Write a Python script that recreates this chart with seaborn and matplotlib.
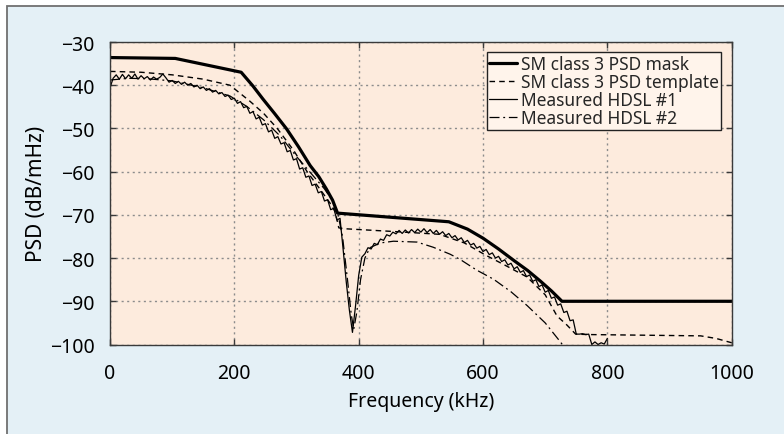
import matplotlib
matplotlib.use("Agg")
import matplotlib.pyplot as plt
import numpy as np
import pandas as pd
import seaborn as sns
from matplotlib.patches import Rectangle

# --- data ---
mask_khz = [0, 105, 211, 230, 246, 265, 284, 303, 322, 336, 348, 358, 366, 545, 575, 600, 625,
            650, 672, 692, 710, 727, 1000]
mask_db = [-33.6, -33.8, -37.0, -40.2, -43.2, -46.6, -50.1, -54.2, -58.6, -61.2, -64.0, -66.6,
           -69.6, -71.6, -73.3, -75.4, -77.9, -80.6, -82.9, -85.3, -87.6, -90.0, -90.0]

templ_khz = [0, 50, 100, 150, 193, 225, 247, 269, 295, 317, 340, 355, 362, 368, 376, 450, 530,
             570, 604, 640, 671, 700, 719, 735, 749, 770, 950, 975, 1000]
templ_db = [-36.8, -37.0, -37.6, -38.6, -40.0, -43.7, -46.5, -50.0, -55.0, -60.0, -64.5, -67.5,
            -69.2, -73.0, -73.2, -73.8, -74.5, -76.5, -79.3, -82.0, -84.4, -88.5, -93.4, -95.5,
            -97.6, -97.7, -98.0, -98.6, -99.6]

hdsl1_khz = np.arange(0, 801, 5)
hdsl1_db = [-40.6, -38.4, -37.6, -38.6, -37.5, -38.5, -37.6, -38.4, -37.4, -38.6,
            -37.8, -38.5, -38.0, -38.8, -38.1, -38.6, -38.2, -37.4, -38.3, -39.3,
            -38.9, -39.6, -39.1, -39.8, -39.3, -40.0, -39.6, -40.4, -40.0, -40.8,
            -40.4, -41.2, -40.8, -41.6, -41.2, -42.0, -41.7, -42.6, -42.3, -43.3,
            -43.0, -44.2, -43.8, -45.2, -44.9, -46.5, -46.1, -47.8, -47.4, -49.2,
            -48.9, -50.8, -50.4, -52.3, -51.9, -53.6, -53.3, -55.4, -55.1, -57.3,
            -57.0, -59.4, -59.1, -61.3, -61.0, -63.2, -62.9, -64.9, -64.6, -66.8,
            -66.5, -68.8, -68.5, -71.2, -70.8, -78.0, -85.5, -92.0, -97.2, -91.0,
            -84.0, -79.8, -79.0, -77.6, -77.9, -76.6, -76.9, -75.6, -75.9, -74.6,
            -74.9, -74.0, -74.4, -73.6, -74.3, -73.5, -74.2, -73.4, -74.1, -73.3,
            -74.0, -73.2, -74.1, -73.4, -74.3, -73.6, -74.5, -73.9, -74.8, -74.3,
            -75.3, -74.8, -75.8, -75.3, -76.4, -75.9, -77.0, -76.6, -77.7, -77.3,
            -78.5, -78.0, -79.2, -78.8, -80.0, -79.6, -80.8, -80.4, -81.6, -81.2,
            -82.5, -82.0, -83.3, -82.9, -84.3, -83.9, -85.4, -85.0, -86.6, -86.2,
            -87.9, -87.5, -89.3, -89.0, -90.9, -90.6, -92.6, -92.3, -94.5, -94.3,
            -97.6, -97.6, -97.5, -97.7, -97.6, -100.0, -99.4, -100.0, -99.6, -99.9,
            -98.6]

hdsl2_khz = [0, 30, 60, 100, 150, 193, 220, 247, 274, 300, 327, 345, 358, 366, 374, 382, 388,
             392, 397, 403, 410, 418, 435, 456, 494, 520, 547, 563, 590, 617, 645, 671, 700,
             725, 740]
hdsl2_db = [-38.8, -38.4, -38.5, -39.0, -40.6, -42.5, -44.9, -48.0, -51.8, -56.5, -61.0, -64.0,
            -66.8, -69.5, -75.0, -85.0, -93.0, -96.5, -92.5, -85.0, -80.0, -77.6, -76.5, -76.1,
            -76.3, -77.5, -79.1, -80.3, -82.8, -84.9, -87.8, -91.0, -95.0, -99.5, -102.5]

labels = ["SM class 3 PSD mask", "SM class 3 PSD template", "Measured HDSL #1", "Measured HDSL #2"]

# --- style ---
sns.set_theme(style="ticks")
plt.rcParams['font.family'] = ['Noto Sans', 'DejaVu Sans']
plt.rcParams['axes.unicode_minus'] = True

fig = plt.figure(figsize=(7.84, 4.35), dpi=100, facecolor='white')
fig.patches.append(Rectangle((7 / 784, -0.2), 1.2, 1.2 - 7 / 435, transform=fig.transFigure,
                             facecolor='#E4F0F6', edgecolor='#707070', lw=1.3, zorder=-5))
ax = fig.add_axes([110 / 784, 1 - 345.5 / 435, 621.7 / 784, 302.5 / 435])
ax.set_facecolor('#FDEBDD')

sns.lineplot(x=mask_khz, y=mask_db, ax=ax, color='black', lw=2.3, sort=False, label=labels[0])
sns.lineplot(x=templ_khz, y=templ_db, ax=ax, color='black', lw=1.0, linestyle=(0, (4, 3)),
             sort=False, label=labels[1])
sns.lineplot(x=hdsl1_khz, y=hdsl1_db, ax=ax, color='black', lw=0.9, sort=False, label=labels[2])
sns.lineplot(x=hdsl2_khz, y=hdsl2_db, ax=ax, color='black', lw=0.9, linestyle=(0, (8, 3, 1.5, 3)),
             sort=False, label=labels[3])

ax.set_xlim(0, 1000)
ax.set_ylim(-100, -30)
ax.set_xticks(range(0, 1001, 200))
ax.set_yticks(range(-100, -29, 10))
ax.grid(True, color='#8C8C8C', linestyle=(0, (1.5, 2.5)), lw=1.0)
ax.set_axisbelow(True)
for s in ax.spines.values():
    s.set_color('#3A3A3A')
    s.set_linewidth(1.0)
ax.tick_params(direction='in', length=4, width=1, color='#3A3A3A', top=True, right=True,
               labelsize=14, labelcolor='black')
ax.tick_params(axis='x', pad=13)
ax.tick_params(axis='y', pad=11)

ax.set_xlabel('Frequency (kHz)', fontsize=14, labelpad=6, color='black')
ax.set_ylabel('PSD (dB/mHz)', fontsize=15, labelpad=2, color='black')

leg = ax.legend(loc='upper right', fontsize=12.5, frameon=True, fancybox=False, framealpha=1,
                facecolor='#FFF4EB', edgecolor='#222222', handlelength=1.6, handletextpad=0.2,
                labelspacing=0.0, borderpad=0.15, borderaxespad=0.6)
leg.get_frame().set_linewidth(1.0)

fig.savefig('out.png', dpi=100, facecolor=fig.get_facecolor())
